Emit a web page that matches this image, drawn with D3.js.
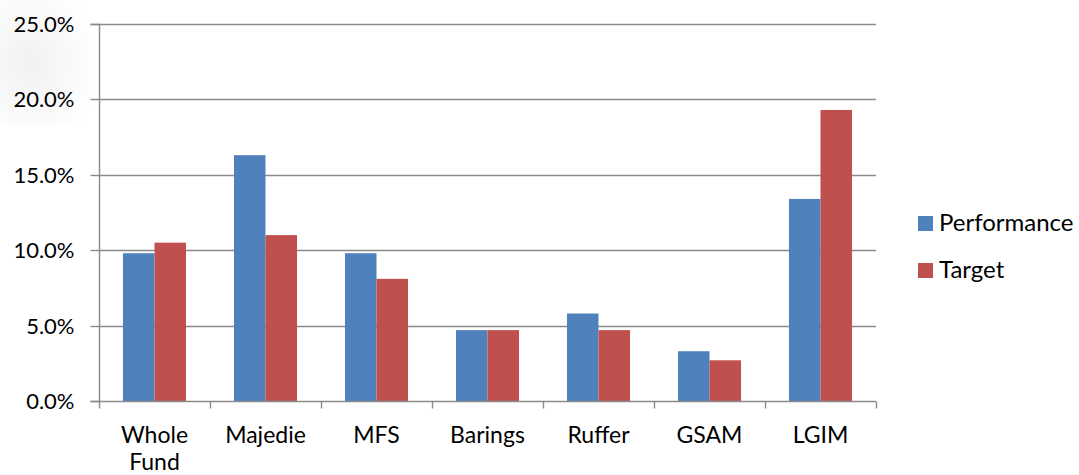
<!DOCTYPE html>
<html>
<head>
<meta charset="utf-8">
<script src="https://cdn.jsdelivr.net/npm/d3@7"></script>
<style>
  html, body { margin: 0; padding: 0; background: #ffffff; }
  svg { display: block; }
  text { font-family: Lato, "Open Sans", sans-serif; fill: #000; }
</style>
</head>
<body>
<script>
const categories = ["Whole Fund", "Majedie", "MFS", "Barings", "Ruffer", "GSAM", "LGIM"];
const performance = [9.8, 16.3, 9.8, 4.7, 5.8, 3.3, 13.4];
const target = [10.5, 11.0, 8.1, 4.7, 4.7, 2.7, 19.3];
const seriesNames = ["Performance", "Target"];
const yTicks = [0, 5, 10, 15, 20, 25];

const W = 1079, H = 475;
const colors = ["#4F81BD", "#C0504D"];
const plot = { left: 99, right: 876, top: 24, bottom: 401 };

const svg = d3.select("body").append("svg").attr("width", W).attr("height", H);

// faint background wash (top-left)
const defs = svg.append("defs");
const grad = defs.append("radialGradient").attr("id", "wash").attr("cx", "0.3").attr("cy", "0.5").attr("r", "0.7");
grad.append("stop").attr("offset", "0%").attr("stop-color", "#f1f1f1");
grad.append("stop").attr("offset", "100%").attr("stop-color", "#ffffff");
svg.append("rect").attr("x", 0).attr("y", 0).attr("width", plot.left).attr("height", 125).attr("fill", "url(#wash)");

const data = categories.map((c, i) => ({ cat: c, values: [performance[i], target[i]] }));

const x0 = d3.scaleBand().domain(categories).range([plot.left, plot.right]).paddingInner(0).paddingOuter(0);
const groupPad = 0.216;
const x1 = d3.scaleBand().domain(seriesNames)
  .range([x0.bandwidth() * groupPad, x0.bandwidth() * (1 - groupPad)]).padding(0);
const y = d3.scaleLinear().domain([0, 25]).range([plot.bottom, plot.top]);

// gridlines
svg.append("g").selectAll("line").data(yTicks.filter(t => t > 0)).join("line")
  .attr("x1", plot.left).attr("x2", plot.right)
  .attr("y1", d => Math.round(y(d)) + 0.5).attr("y2", d => Math.round(y(d)) + 0.5)
  .attr("stroke", "#8a8a8a").attr("stroke-width", 1.4);

// bars
const groups = svg.append("g").selectAll("g").data(data).join("g")
  .attr("transform", d => `translate(${x0(d.cat)},0)`);
groups.selectAll("rect").data(d => d.values.map((v, i) => ({ v, i }))).join("rect")
  .attr("x", d => x1(seriesNames[d.i]))
  .attr("width", x1.bandwidth())
  .attr("y", d => y(d.v))
  .attr("height", d => y(0) - y(d.v))
  .attr("fill", d => colors[d.i]);

// y axis
const yAxis = d3.axisLeft(y).tickValues(yTicks).tickSize(9).tickPadding(16)
  .tickFormat(d => d.toFixed(1) + "%");
const gy = svg.append("g").attr("transform", `translate(${plot.left + 0.5},0)`).call(yAxis);
gy.select(".domain").attr("stroke", "#8a8a8a").attr("stroke-width", 1.4).attr("d", `M-9,${plot.top + 0.5}H0V${plot.bottom + 0.5}H-9`);
gy.selectAll(".tick line").attr("stroke", "#8a8a8a").attr("stroke-width", 1.4);
gy.selectAll(".tick").attr("transform", d => `translate(0,${Math.round(y(d)) + 0.5})`);
gy.selectAll("text").style("font-size", "22px").attr("fill", "#000").attr("dy", "0.36em");

// x axis
const xAxis = d3.axisBottom(x0).tickSize(0).tickFormat("");
const gx = svg.append("g").attr("transform", `translate(0,${plot.bottom + 0.5})`).call(xAxis);
gx.select(".domain").attr("stroke", "#8a8a8a").attr("stroke-width", 1.4).attr("d", `M${plot.left},0H${plot.right}`);
// category boundary ticks
const bounds = categories.map(c => x0(c)).concat([plot.right]);
gx.append("g").selectAll("line").data(bounds).join("line")
  .attr("x1", d => Math.round(d) + 0.5).attr("x2", d => Math.round(d) + 0.5)
  .attr("y1", 0).attr("y2", 7)
  .attr("stroke", "#8a8a8a").attr("stroke-width", 1.4);

// category labels (wrapped)
const labelG = svg.append("g");
categories.forEach(c => {
  const words = c.split(" ");
  const t = labelG.append("text")
    .attr("x", x0(c) + x0.bandwidth() / 2)
    .attr("y", 443)
    .attr("text-anchor", "middle")
    .style("font-size", "23px");
  words.forEach((w, i) => {
    t.append("tspan").attr("x", x0(c) + x0.bandwidth() / 2).attr("dy", i === 0 ? 0 : 27).text(w);
  });
});

// legend
const legend = svg.append("g").selectAll("g").data(seriesNames).join("g")
  .attr("transform", (d, i) => `translate(918,${216 + i * 47})`);
legend.append("rect").attr("width", 15).attr("height", 15).attr("fill", (d, i) => colors[i]);
legend.append("text").attr("x", 21).attr("y", 15).style("font-size", "24px").text(d => d);
</script>
</body>
</html>
